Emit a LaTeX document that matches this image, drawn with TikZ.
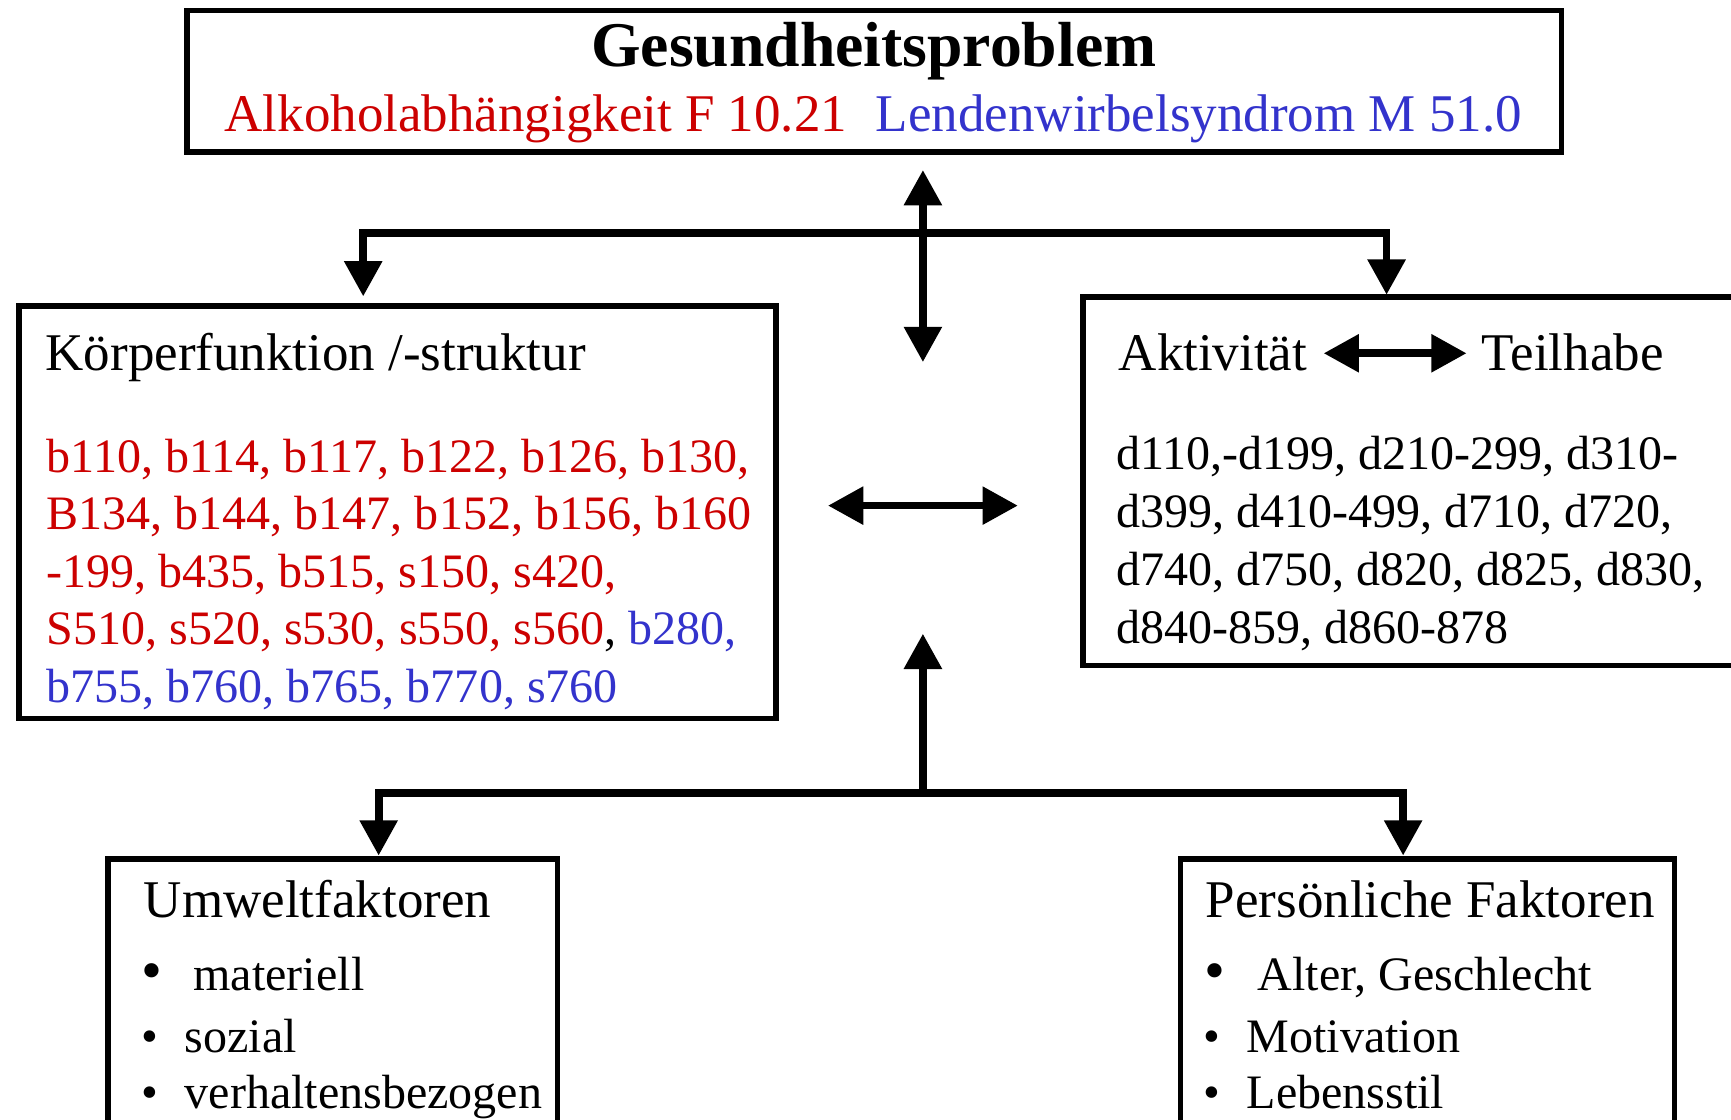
\documentclass[tikz,border=0pt]{standalone}
\usepackage{fontspec}
\setmainfont{Liberation Serif}
\usetikzlibrary{arrows.meta}
\definecolor{icfred}{RGB}{204,0,0}
\definecolor{icfblue}{RGB}{51,51,204}
\begin{document}
\begin{tikzpicture}[x=0.5pt,y=-0.5pt,
  box/.style={draw=black,line width=2.5pt,line join=miter,inner sep=0pt,outer sep=0pt},
  conn/.style={line width=3.5pt,line join=miter},
  >={Triangle[length=16pt,width=16.5pt]},
  txt/.style={inner sep=0pt,anchor=base west},
  head/.style={txt,font=\fontsize{24pt}{28pt}\selectfont},
  lst/.style={txt,font=\fontsize{21.75pt}{26pt}\selectfont},
  bul/.style={txt,font=\fontsize{21.75pt}{26pt}\selectfont},
  bigbul/.style={txt,font=\fontsize{27pt}{30pt}\selectfont},
]
\useasboundingbox (0,0) rectangle (1568,1014);
\clip (0,0) rectangle (1568,1014);

% boxes
\node[box,minimum width=622.5pt,minimum height=64pt] (gp) at (792,73.5) {};
\node[box,minimum width=343pt,minimum height=187pt] (kf) at (360,464) {};
\node[box,minimum width=329.5pt,minimum height=167pt] (at) at (1310.5,436) {};
\node[box,minimum width=203.5pt,minimum height=141pt] (uf) at (301.5,919) {};
\node[box,minimum width=223.75pt,minimum height=141pt] (pf) at (1293.25,919) {};

% top box text
\node[inner sep=0pt,anchor=base,font=\fontsize{28.85pt}{32pt}\selectfont\bfseries] (title) at (791.5,60) {Gesundheitsproblem};
\node[txt,font=\fontsize{24pt}{28pt}\selectfont,text=icfred] (alk) at (203,119) {Alkoholabhängigkeit F 10.21};
\node[txt,font=\fontsize{24pt}{28pt}\selectfont,text=icfblue] (lws) at (793,119) {Lendenwirbelsyndrom M 51.0};

% left box text
\node[head] (kfh) at (41,336) {Körperfunktion /-struktur};
\node[lst,text=icfred] (kf1) at (42,428) {b110, b114, b117, b122, b126, b130,};
\node[lst,text=icfred] (kf2) at (42,480) {B134, b144, b147, b152, b156, b160};
\node[lst,text=icfred] (kf3) at (42,532) {-199, b435, b515, s150, s420,};
\node[lst] (kf4) at (42,584) {\textcolor{icfred}{S510, s520, s530, s550, s560}, \textcolor{icfblue}{b280,}};
\node[lst,text=icfblue] (kf5) at (42,636) {b755, b760, b765, b770, s760};

% right box text
\node[head] (akt) at (1013,336) {Aktivität};
\node[head] (teil) at (1342,336) {Teilhabe};
\node[lst] (at1) at (1011,425) {d110,-d199, d210-299, d310-};
\node[lst] (at2) at (1011,477.5) {d399, d410-499, d710, d720,};
\node[lst] (at3) at (1011,530) {d740, d750, d820, d825, d830,};
\node[lst] (at4) at (1011,582.5) {d840-859, d860-878};

% bottom left text
\node[head] (ufh) at (130,831) {Umweltfaktoren};
\node[bigbul] (ufb1) at (128,897) {•};
\node[lst] (uf1) at (175,897) {materiell};
\node[bul] (ufb2) at (128,953) {•};
\node[lst] (uf2) at (167,953) {sozial};
\node[bul] (ufb3) at (128,1004) {•};
\node[lst] (uf3) at (167,1004) {verhaltensbezogen};

% bottom right text
\node[head] (pfh) at (1092,831) {Persönliche Faktoren};
\node[bigbul] (pfb1) at (1091,897) {•};
\node[lst] (pf1) at (1139,897) {Alter, Geschlecht};
\node[bul] (pfb2) at (1090,953) {•};
\node[lst] (pf2) at (1129,953) {Motivation};
\node[bul] (pfb3) at (1090,1004) {•};
\node[lst] (pf3) at (1129,1004) {Lebensstil};

% connector end points
\coordinate (vtop) at (836,154);
\coordinate (vbot) at (836,328);
\coordinate (brl) at (329,268.5);
\coordinate (brm) at (836,211);
\coordinate (brr) at (1256,267);
\coordinate (hl) at (750,458);
\coordinate (hr) at (922,458);
\coordinate (ul) at (1199,320);
\coordinate (ur) at (1328.5,320);
\coordinate (upt) at (836,574);
\coordinate (bbm) at (836,718);
\coordinate (bbl) at (343,775);
\coordinate (bbr) at (1271,775);

% connectors
\draw[conn,<->] (vtop) -- (vbot);
\draw[conn,<->] (brl) |- (brm) -| (brr);
\draw[conn,<->] (hl) -- (hr);
\draw[conn,<->] (ul) -- (ur);
\draw[conn,->] (bbm) -- (upt);
\draw[conn,<->] (bbl) |- (bbm) -| (bbr);
\end{tikzpicture}
\end{document}
